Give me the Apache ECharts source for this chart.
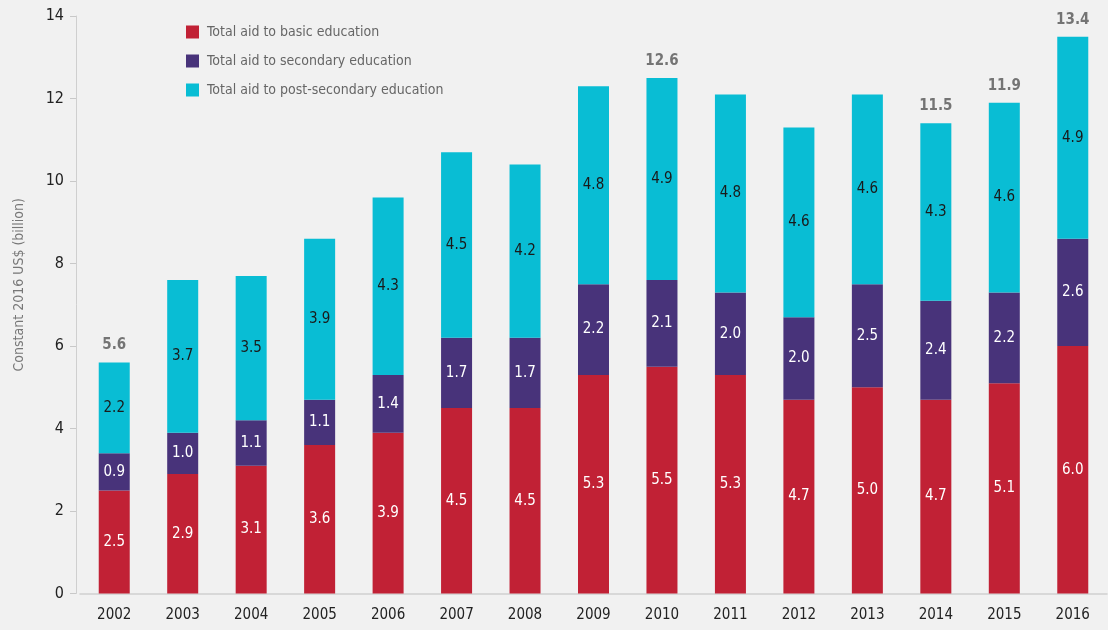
<!DOCTYPE html>
<html>
<head>
<meta charset="utf-8">
<script src="https://cdn.jsdelivr.net/npm/echarts@6/dist/echarts.min.js"></script>
<style>
  html, body { margin: 0; padding: 0; background: #f1f1f1; }
  #chart { width: 1108px; height: 630px; }
</style>
</head>
<body>
<div id="chart"></div>
<script>
// Aid to education by level, constant 2016 US$ billions
const years = ['2002','2003','2004','2005','2006','2007','2008','2009','2010','2011','2012','2013','2014','2015','2016'];
const basicEducation        = [2.5, 2.9, 3.1, 3.6, 3.9, 4.5, 4.5, 5.3, 5.5, 5.3, 4.7, 5.0, 4.7, 5.1, 6.0];
const secondaryEducation    = [0.9, 1.0, 1.1, 1.1, 1.4, 1.7, 1.7, 2.2, 2.1, 2.0, 2.0, 2.5, 2.4, 2.2, 2.6];
const postSecondaryEducation = [2.2, 3.7, 3.5, 3.9, 4.3, 4.5, 4.2, 4.8, 4.9, 4.8, 4.6, 4.6, 4.3, 4.6, 4.9];
// Published totals, shown above selected bars only
const totalLabels = ['5.6', null, null, null, null, null, null, null, '12.6', null, null, null, '11.5', '11.9', '13.4'];
const yTicks = { min: 0, max: 14, interval: 2 };

const FONT = '"Liberation Sans Narrow", "DejaVu Sans Condensed", "Noto Sans", sans-serif';
const stackTops = years.map((_, i) => +(basicEducation[i] + secondaryEducation[i] + postSecondaryEducation[i]).toFixed(2));

const segLabel = (color) => ({
  show: true, position: 'inside', color: color,
  fontFamily: FONT, fontSize: 15,
  formatter: (p) => p.value.toFixed(1)
});

const chart = echarts.init(document.getElementById('chart'));
chart.setOption({
  backgroundColor: '#f1f1f1',
  animation: false,
  textStyle: { fontFamily: FONT },
  grid: { left: 80, right: 1, top: 16, bottom: 36.5 },
  legend: {
    orient: 'vertical', left: 181, top: 20,
    itemWidth: 13, itemHeight: 13, itemGap: 15,
    icon: 'rect',
    textStyle: { fontFamily: FONT, fontSize: 14, color: '#666', padding: [0, 0, 0, 3] },
    data: ['Total aid to basic education', 'Total aid to secondary education', 'Total aid to post-secondary education']
  },
  xAxis: {
    type: 'category', data: years,
    axisLine: { lineStyle: { color: '#cfcfcf', width: 1.5 } },
    axisTick: { show: false },
    axisLabel: { color: '#222', fontSize: 15, fontFamily: FONT, margin: 14 }
  },
  yAxis: {
    type: 'value', min: yTicks.min, max: yTicks.max, interval: yTicks.interval,
    offset: 4,
    name: 'Constant 2016 US$ (billion)', nameLocation: 'middle', nameGap: 50, nameRotate: 90,
    nameTextStyle: { color: '#777', fontSize: 14, fontFamily: FONT, padding: [0, 0, 0, 40] },
    axisLine: { show: true, lineStyle: { color: '#cfcfcf' } },
    axisTick: { show: true, length: 6, lineStyle: { color: '#c8c8c8' } },
    axisLabel: { color: '#222', fontSize: 16, fontFamily: FONT, margin: 12 },
    splitLine: { show: false }
  },
  series: [
    {
      name: 'Total aid to basic education', type: 'bar', stack: 'aid', barWidth: 31,
      itemStyle: { color: '#c12135' }, data: basicEducation, label: segLabel('#ffffff')
    },
    {
      name: 'Total aid to secondary education', type: 'bar', stack: 'aid', barWidth: 31,
      itemStyle: { color: '#48337a' }, data: secondaryEducation, label: segLabel('#ffffff')
    },
    {
      name: 'Total aid to post-secondary education', type: 'bar', stack: 'aid', barWidth: 31,
      itemStyle: { color: '#09bdd4' }, data: postSecondaryEducation, label: segLabel('#1a1a1a')
    },
    {
      name: 'totals', type: 'scatter', symbolSize: 1, silent: true,
      itemStyle: { color: 'rgba(0,0,0,0)' },
      data: stackTops.map((v, i) => totalLabels[i] ? { value: v, label: { show: true } } : null),
      label: {
        show: false, position: 'top', distance: 9,
        color: '#555', fontWeight: 'bold', fontSize: 15, fontFamily: FONT,
        formatter: (p) => totalLabels[p.dataIndex]
      }
    }
  ]
});
</script>
</body>
</html>
